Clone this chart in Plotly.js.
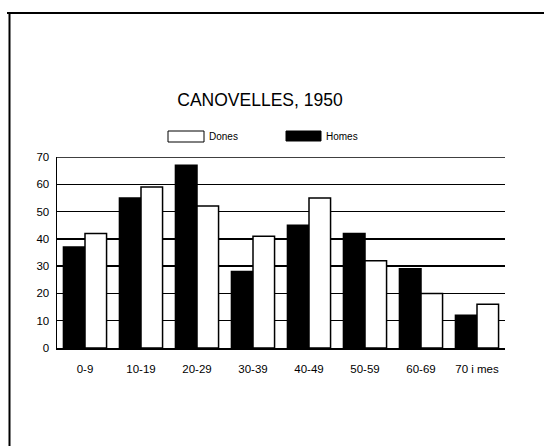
<!DOCTYPE html>
<html>
<head>
<meta charset="utf-8">
<script src="https://cdn.plot.ly/plotly-3.0.1.min.js"></script>
<style>html,body{margin:0;padding:0;background:#fff;}#chart{width:544px;height:446px;}</style>
</head>
<body>
<div id="chart"></div>
<script>
const categories = ["0-9", "10-19", "20-29", "30-39", "40-49", "50-59", "60-69", "70 i mes"];
const homes = [37, 55, 67, 28, 45, 42, 29, 12];
const dones = [42, 59, 52, 41, 55, 32, 20, 16];
const seriesNames = ["Homes", "Dones"];
const titleText = "CANOVELLES, 1950";
const yTicks = [0, 10, 20, 30, 40, 50, 60, 70];

const L = 57, R = 505, T = 157, B = 348;
const px = x => (x - L) / (R - L);
const py = y => (B - y) / (B - T);

const traces = [
  {type: "bar", name: seriesNames[0], x: categories, y: homes,
   marker: {color: "#000", line: {color: "#000", width: 1.5}}, showlegend: false},
  {type: "bar", name: seriesNames[1], x: categories, y: dones,
   marker: {color: "#fff", line: {color: "#000", width: 1.5}}, showlegend: false}
];

const font = {family: "Liberation Sans, Arial, sans-serif", color: "#000"};

const layout = {
  width: 544, height: 446,
  margin: {l: L, r: 544 - R, t: T, b: 446 - B},
  paper_bgcolor: "#fff", plot_bgcolor: "#fff",
  barmode: "group", bargap: 0.23, bargroupgap: 0,
  title: {text: titleText, x: 260 / 544, xref: "container", xanchor: "center",
          y: 1 - 100 / 446, yref: "container", yanchor: "middle",
          font: Object.assign({size: 17.5}, font)},
  xaxis: {type: "category", showgrid: false, showline: true, linecolor: "#000", linewidth: 2,
          ticks: "", ticklabelstandoff: 9, tickfont: Object.assign({size: 11.5}, font), fixedrange: true},
  yaxis: {range: [0, 70], tickvals: yTicks, ticktext: yTicks.map(String),
          showgrid: true, gridcolor: "#000", gridwidth: 1.3,
          showline: true, linecolor: "#000", linewidth: 1.5, ticks: "", ticklabelstandoff: 4,
          tickfont: Object.assign({size: 11.5}, font), zeroline: false, fixedrange: true},
  shapes: [
    {type: "line", xref: "paper", yref: "y", x0: 0, x1: 1, y0: 70, y1: 70, layer: "below", line: {color: "#000", width: 1.3}},
    {type: "line", xref: "paper", yref: "paper", x0: px(7), x1: px(548), y0: py(13), y1: py(13), line: {color: "#000", width: 2}},
    {type: "line", xref: "paper", yref: "paper", x0: px(9.5), x1: px(9.5), y0: py(13), y1: py(450), line: {color: "#000", width: 2}},
    {type: "rect", xref: "paper", yref: "paper", x0: px(168), x1: px(204), y0: py(142), y1: py(131), fillcolor: "#fff", line: {color: "#000", width: 1}},
    {type: "rect", xref: "paper", yref: "paper", x0: px(286), x1: px(321), y0: py(141), y1: py(131), fillcolor: "#000", line: {color: "#000", width: 1}}
  ],
  annotations: [
    {xref: "paper", yref: "paper", x: px(207), y: py(136.5), xanchor: "left", yanchor: "middle", showarrow: false,
     text: seriesNames[1], font: Object.assign({size: 10}, font)},
    {xref: "paper", yref: "paper", x: px(324), y: py(136.5), xanchor: "left", yanchor: "middle", showarrow: false,
     text: seriesNames[0], font: Object.assign({size: 10}, font)}
  ]
};

Plotly.newPlot("chart", traces, layout, {displayModeBar: false, staticPlot: true});
</script>
</body>
</html>
